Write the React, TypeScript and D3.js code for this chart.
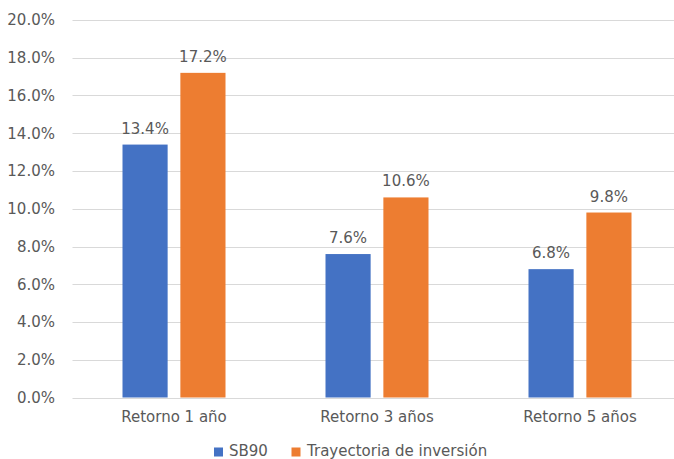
import React from "react";
import * as d3 from "d3";

const categories = ["Retorno 1 año", "Retorno 3 años", "Retorno 5 años"];
const seriesNames = ["SB90", "Trayectoria de inversión"];
const sb90 = [13.4, 7.6, 6.8];
const trayectoria = [17.2, 10.6, 9.8];
const yTicks = [0, 2, 4, 6, 8, 10, 12, 14, 16, 18, 20];
const colors = ["#4472C4", "#ED7D31"];

const W = 674;
const H = 459;
const FONT = "'DejaVu Sans', sans-serif";
const TEXT = "#595959";
const FS = 15;

export default function App() {
  const x = d3.scaleBand<string>().domain(categories).range([72.5, 681.5]);
  const y = d3.scaleLinear().domain([0, 20]).range([397.5, 20]);
  const inner = d3.scaleBand<number>().domain([0, 1]).range([-51.5, 51.5]).paddingInner(0.22);
  const series = [sb90, trayectoria];

  return (
    <svg width={W} height={H} style={{ position: "absolute", left: 0, top: 0, background: "#fff" }} fontFamily={FONT}>
      <rect width={W} height={H} fill="#fff" />
      {yTicks.map((t) => (
        <g key={t}>
          <line x1={72.5} x2={W} y1={Math.round(y(t)) + 0.5} y2={Math.round(y(t)) + 0.5} stroke="#D9D9D9" strokeWidth={1} />
          <text x={55} y={y(t)} dy="0.36em" textAnchor="end" fontSize={FS} fill={TEXT}>
            {t.toFixed(1)}%
          </text>
        </g>
      ))}
      {categories.map((c, i) => {
        const cx = (x(c) as number) + x.bandwidth() / 2;
        return (
          <g key={c}>
            {series.map((s, k) => {
              const bx = cx + (inner(k) as number);
              const bw = inner.bandwidth();
              return (
                <g key={k}>
                  <rect x={bx} y={y(s[i])} width={bw} height={y(0) - y(s[i])} fill={colors[k]} />
                  <text x={bx + bw / 2} y={y(s[i]) - 11} textAnchor="middle" fontSize={FS} fill={TEXT}>
                    {s[i].toFixed(1)}%
                  </text>
                </g>
              );
            })}
            <text x={cx} y={421.5} textAnchor="middle" fontSize={FS} fill={TEXT}>
              {c}
            </text>
          </g>
        );
      })}
      <g>
        <rect x={214} y={447.5} width={9} height={9} fill={colors[0]} />
        <text x={229} y={455.5} fontSize={FS} fill={TEXT}>{seriesNames[0]}</text>
        <rect x={291.5} y={447.5} width={9} height={9} fill={colors[1]} />
        <text x={307} y={455.5} fontSize={FS} fill={TEXT}>{seriesNames[1]}</text>
      </g>
    </svg>
  );
}
